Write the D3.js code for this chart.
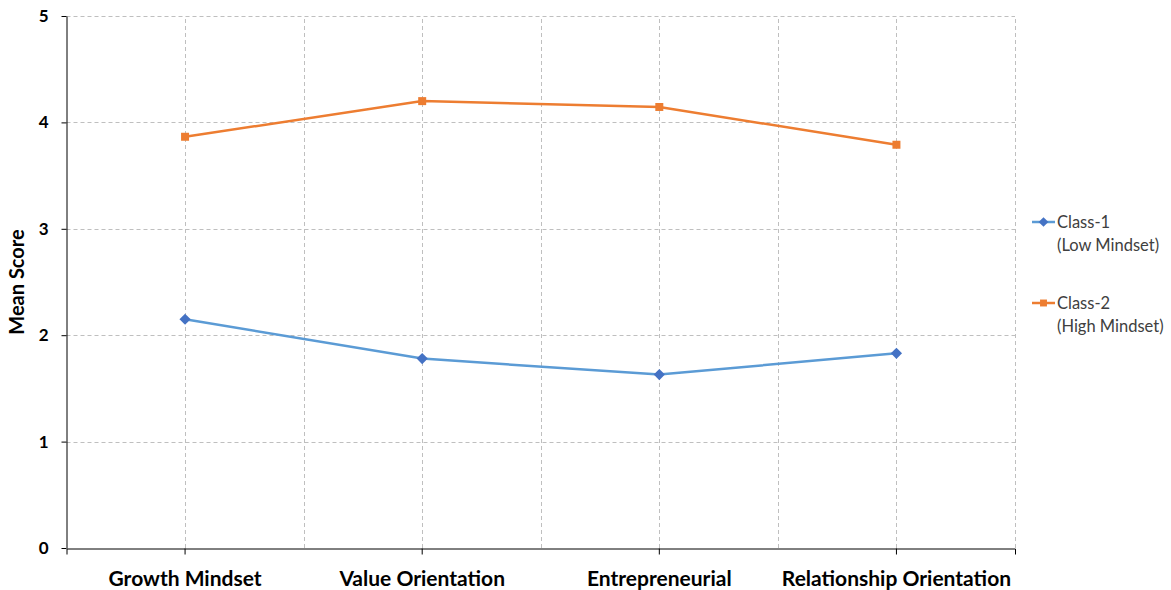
<!DOCTYPE html>
<html>
<head>
<meta charset="utf-8">
<script src="https://cdn.jsdelivr.net/npm/d3@7"></script>
<style>
  body { margin: 0; background: #fff; }
  text { font-family: "Lato", "Liberation Sans", sans-serif; }
</style>
</head>
<body>
<div id="chart"></div>
<script>
// data
var categories = ["Growth Mindset", "Value Orientation", "Entrepreneurial", "Relationship Orientation"];
var class1 = [2.15, 1.78, 1.63, 1.83];
var class2 = [3.865, 4.20, 4.145, 3.79];
var seriesNames = ["Class-1", "Class-2"];
var seriesSub = ["(Low Mindset)", "(High Mindset)"];
var yTicks = [0, 1, 2, 3, 4, 5];

var width = 1171, height = 590;
var margin = {left: 66.5, right: 156, top: 16, bottom: 42};

var svg = d3.select("#chart").append("svg")
    .attr("width", width)
    .attr("height", height);

var x = d3.scaleBand()
    .domain(categories)
    .range([margin.left, width - margin.right]);

var y = d3.scaleLinear()
    .domain([0, 5])
    .range([height - margin.bottom, margin.top]);

var grid = svg.append("g");

// horizontal grid
grid.selectAll(".hg")
    .data(yTicks.filter(function (d) { return d > 0; }))
    .enter().append("line")
    .attr("x1", margin.left).attr("x2", width - margin.right)
    .attr("y1", function (d) { return Math.round(y(d)) + 0.5; })
    .attr("y2", function (d) { return Math.round(y(d)) + 0.5; })
    .attr("stroke", "#bfbfbf")
    .attr("stroke-dasharray", "4,3");

// vertical grid at category centres and band edges
var vLines = [];
categories.forEach(function (c) {
    vLines.push(x(c) + x.bandwidth() / 2);
    vLines.push(x(c) + x.bandwidth());
});
grid.selectAll(".vg")
    .data(vLines)
    .enter().append("line")
    .attr("x1", function (d) { return Math.round(d) + 0.5; })
    .attr("x2", function (d) { return Math.round(d) + 0.5; })
    .attr("y1", y(0)).attr("y2", y(5))
    .attr("stroke", "#bfbfbf")
    .attr("stroke-dasharray", "4,3");

// y axis
var yAxis = svg.append("g")
    .attr("transform", "translate(" + margin.left + ",0)")
    .call(d3.axisLeft(y).tickValues(yTicks).tickFormat(d3.format("d"))
        .tickSize(5).tickSizeOuter(0).tickPadding(13));
yAxis.select(".domain").attr("stroke", "#000");
yAxis.selectAll(".tick line").attr("stroke", "#000");
yAxis.selectAll("text")
    .attr("fill", "#000")
    .style("font-size", "17px")
    .style("font-weight", "bold");

// x axis
var xAxis = svg.append("g")
    .attr("transform", "translate(0," + (y(0) + 0.5) + ")")
    .call(d3.axisBottom(x).tickSize(6).tickSizeOuter(6).tickPadding(17));
xAxis.select(".domain").attr("stroke", "#000");
xAxis.selectAll(".tick line").attr("stroke", "#000");
xAxis.selectAll("text")
    .attr("fill", "#000")
    .style("font-size", "21px")
    .style("font-weight", "bold");

// y title
svg.append("text")
    .attr("transform", "translate(24," + ((y(0) + y(5)) / 2) + ") rotate(-90)")
    .attr("text-anchor", "middle")
    .style("font-size", "20px")
    .style("font-weight", "bold")
    .text("Mean Score");

var line = d3.line()
    .x(function (d, i) { return x(categories[i]) + x.bandwidth() / 2; })
    .y(function (d) { return y(d); });

var colors = ["#5b9bd5", "#ed7d31"];
var markColors = ["#4472c4", "#ed7d31"];

[class1, class2].forEach(function (vals, s) {
    svg.append("path")
        .datum(vals)
        .attr("d", line)
        .attr("fill", "none")
        .attr("stroke", colors[s])
        .attr("stroke-width", 2.5);

    svg.selectAll(".m" + s)
        .data(vals)
        .enter().append("path")
        .attr("transform", function (d, i) {
            return "translate(" + (x(categories[i]) + x.bandwidth() / 2) + "," + y(d) + ")";
        })
        .attr("d", d3.symbol().type(s == 0 ? d3.symbolDiamond2 : d3.symbolSquare).size(s == 0 ? 80 : 64))
        .attr("fill", markColors[s]);
});

// legend
var legend = svg.append("g");
seriesNames.forEach(function (name, s) {
    var ly = 222 + s * 81;
    legend.append("line")
        .attr("x1", 1032).attr("x2", 1055)
        .attr("y1", ly).attr("y2", ly)
        .attr("stroke", colors[s])
        .attr("stroke-width", 2.5);
    legend.append("path")
        .attr("transform", "translate(1043.5," + ly + ")")
        .attr("d", d3.symbol().type(s == 0 ? d3.symbolDiamond2 : d3.symbolSquare).size(s == 0 ? 60 : 48))
        .attr("fill", markColors[s]);
    legend.append("text")
        .attr("x", 1057).attr("y", ly + 6)
        .attr("fill", "#404040")
        .style("font-size", "16.5px")
        .text(name);
    legend.append("text")
        .attr("x", 1057).attr("y", ly + 29)
        .attr("fill", "#404040")
        .style("font-size", "16.5px")
        .text(seriesSub[s]);
});
</script>
</body>
</html>
